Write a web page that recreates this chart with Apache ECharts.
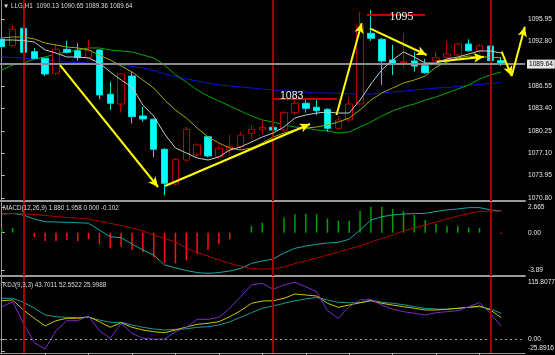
<!DOCTYPE html>
<html>
<head>
<meta charset="utf-8">
<script src="https://cdn.jsdelivr.net/npm/echarts@6/dist/echarts.min.js"></script>
<style>
  html, body { margin: 0; padding: 0; background: #000; }
  #chartBox { width: 555px; height: 355px; }
</style>
</head>
<body>
<div id="chartBox"></div>
<script>
// LLG,H1 - 47 bars, index 0..46
const opens  = [1093.13,1092.23,1094.68,1091.39,1090.46,1088.34,1091.72,1091.53,1090.54,1091.63,1085.39,1084.02,1087.96,1082.33,1081.87,1077.64,1072.75,1076.13,1076.84,1079.41,1076.60,1077.54,1078.01,1079.89,1080.46,1080.74,1080.36,1082.80,1084.12,1083.56,1083.27,1080.60,1081.77,1084.02,1093.98,1093.13,1090.22,1089.84,1090.08,1089.41,1090.12,1090.60,1090.92,1092.47,1091.53,1092.19,1090.13];
const closes = [1092.09,1094.54,1091.30,1090.46,1088.25,1091.72,1091.30,1090.54,1091.53,1085.29,1084.12,1088.25,1082.23,1081.91,1077.64,1072.85,1076.23,1080.46,1078.25,1076.70,1077.78,1078.01,1079.65,1080.46,1080.74,1080.36,1082.80,1084.12,1083.41,1083.08,1080.60,1081.77,1084.02,1095.01,1093.27,1090.08,1089.75,1089.98,1089.36,1088.43,1090.54,1091.06,1092.47,1091.53,1092.23,1090.12,1089.64];
const lows   = [1091.95,1092.10,1091.20,1090.40,1087.96,1088.11,1091.16,1090.12,1090.46,1084.72,1083.18,1082.80,1081.30,1081.53,1076.51,1071.20,1072.61,1075.90,1076.60,1076.50,1076.37,1076.90,1077.64,1079.19,1079.65,1080.20,1080.10,1082.47,1082.80,1082.47,1080.12,1080.40,1081.53,1083.90,1092.90,1086.70,1088.11,1089.05,1088.57,1088.30,1089.98,1090.22,1090.80,1091.40,1091.16,1090.00,1089.36];
const highs  = [1093.40,1095.15,1094.80,1091.87,1090.50,1092.43,1092.94,1092.57,1093.03,1091.70,1087.16,1088.30,1088.57,1083.64,1082.00,1077.80,1076.40,1080.80,1078.50,1079.50,1078.01,1079.65,1080.12,1081.06,1081.91,1080.90,1083.00,1084.58,1084.58,1084.58,1083.41,1082.23,1084.82,1097.02,1097.26,1093.30,1092.33,1094.06,1091.39,1090.36,1091.39,1092.80,1092.65,1093.13,1092.47,1092.65,1090.65];

// moving averages on the price panel
const maGray  = [1093.03,1093.03,1092.96,1092.75,1091.63,1091.20,1090.64,1090.64,1090.50,1089.79,1088.53,1087.40,1086.41,1083.88,1082.33,1079.80,1077.82,1077.12,1076.41,1076.13,1076.56,1077.54,1077.96,1078.67,1079.37,1079.94,1080.78,1082.05,1082.47,1082.75,1082.89,1082.75,1082.75,1084.58,1086.84,1088.81,1090.22,1091.34,1090.64,1089.79,1089.79,1090.36,1090.64,1091.06,1091.49,1091.49,1091.20];
const maOlive = [1093.32,1093.46,1093.46,1093.18,1092.61,1092.33,1092.05,1091.91,1091.63,1090.92,1090.22,1089.37,1088.53,1087.40,1086.27,1084.58,1083.18,1082.05,1080.64,1079.37,1078.53,1077.82,1077.54,1077.82,1078.53,1079.37,1079.94,1080.36,1080.64,1080.78,1081.06,1081.49,1082.05,1083.18,1084.58,1085.57,1086.27,1086.98,1087.40,1087.96,1089.23,1089.94,1090.50,1090.78,1090.64,1090.64,1090.50];
const maGreen = [1088.81,1089.51,1089.79,1090.36,1090.64,1091.06,1091.34,1091.63,1091.91,1091.91,1091.63,1091.49,1091.34,1090.92,1090.50,1089.51,1088.11,1087.12,1085.99,1085.15,1084.44,1083.74,1083.03,1082.33,1081.77,1081.49,1081.06,1080.78,1080.64,1080.36,1080.22,1079.94,1080.08,1080.78,1081.49,1082.33,1083.03,1083.60,1084.02,1084.58,1085.01,1085.57,1086.13,1086.70,1087.54,1088.11,1088.53];
const maBlue  = [1090.64,1090.57,1090.50,1090.36,1090.29,1090.15,1089.94,1089.87,1089.79,1089.72,1089.65,1089.51,1089.30,1089.09,1088.74,1088.25,1087.89,1087.54,1087.26,1086.98,1086.70,1086.56,1086.41,1086.27,1086.13,1085.99,1085.85,1085.78,1085.71,1085.57,1085.57,1085.53,1085.46,1085.36,1085.43,1085.57,1085.71,1085.85,1085.99,1086.13,1086.27,1086.34,1086.49,1086.63,1086.77,1086.91,1087.05];

// MACD(12,26,9)
const macdHist = [0.50,0.50,0.05,-0.45,-0.87,-0.87,-0.77,-0.87,-0.70,-1.22,-1.64,-1.47,-1.82,-2.06,-2.62,-3.21,-3.21,-2.90,-2.27,-1.82,-1.22,-0.70,0.02,0.70,1.05,1.23,1.60,1.93,1.96,1.93,1.50,1.26,1.26,2.28,2.73,2.73,2.49,2.28,1.86,1.33,0.94,0.70,0.70,0.56,0.49,0.05,-0.10];
const macdDif  = [1.95,2.03,1.85,1.43,1.15,1.12,1.09,1.05,0.99,0.28,-0.42,-0.53,-1.19,-1.82,-2.34,-3.39,-3.68,-3.97,-4.18,-4.27,-4.18,-4.02,-3.76,-3.22,-2.97,-2.76,-2.13,-1.64,-1.40,-1.22,-1.08,-1.01,-0.69,0.28,1.33,1.68,1.86,1.96,2.00,2.03,2.23,2.39,2.49,2.63,2.63,2.39,2.28];
const macdDea  = [1.96,2.01,1.96,1.91,1.81,1.70,1.60,1.54,1.43,1.22,0.98,0.75,0.49,0.18,-0.24,-0.61,-0.98,-1.61,-2.08,-2.45,-2.87,-3.21,-3.50,-3.78,-3.81,-3.81,-3.60,-3.24,-2.97,-2.66,-2.34,-2.03,-1.71,-1.40,-0.98,-0.61,-0.24,0.18,0.49,0.81,1.12,1.44,1.75,2.01,2.22,2.27,2.27];

// KDJ(9,3,3)
const kdjK = [78.2,79.7,59.2,42.3,26.6,37.4,42.3,42.3,45.5,35.3,23.9,33.3,23.9,18.4,14.9,12.9,18.4,24.5,30.0,32.1,35.3,45.5,57.8,72.9,77.6,78.2,83.1,91.9,89.9,87.8,72.9,64.7,69.4,74.1,78.0,72.9,69.4,66.0,62.7,59.2,59.2,60.7,62.7,64.7,67.4,59.2,43.7];
const kdjD = [83.1,83.1,75.0,63.3,49.0,45.5,44.3,43.5,44.3,38.8,34.1,34.1,28.6,23.9,20.4,18.4,19.8,20.8,23.9,25.1,28.6,35.3,44.3,53.7,62.7,67.4,72.9,78.2,81.7,85.2,79.7,75.0,74.1,74.1,79.2,75.0,72.9,70.1,66.0,62.7,61.3,60.7,62.7,64.7,66.0,61.3,52.6];
const kdjJ = [65.4,76.2,32.1,-7.6,-20.4,17.0,37.4,37.4,47.0,17.0,1.4,32.1,11.6,1.4,-0.6,0.0,14.9,23.5,40.2,40.2,44.3,62.7,86.4,110.3,113.8,101.5,110.3,115.8,106.8,96.6,57.8,42.3,66.0,79.7,80.7,69.4,60.7,55.8,52.5,49.0,53.7,55.8,57.8,66.0,74.1,52.5,26.0];

// axis tick labels
const priceTicks = [1070.80,1073.95,1077.10,1080.25,1083.40,1086.55,1092.80,1095.95];
const macdTicks = [-3.89,0,2.665];
const macdTickLabels = ['-3.89','0.00','2.665'];
const kdjTicks = [-25.8916,0,115.8077];
const kdjLabelAt = [-19,0,115.8077];   // bottom label is pushed up inside the pane
const kdjTickLabels = ['-25.8916','0.00','115.8077'];
const timeTicks = [4,8,12,16,20,24,28,32,36,40,44];
const lastPrice = 1089.64;

// day separators (bar index)
const daySeps = [2,25,45];

// hand drawn arrows [[fromIdx, fromPrice], [toIdx, toPrice]]
const arrows = [
  [[5.37,1089.50],[14.40,1072.33]],
  [[15.04,1072.47],[28.39,1081.20]],
  [[30.83,1082.47],[33.15,1095.39]],
  [[33.90,1094.68],[39.13,1090.92]],
  [[40.06,1089.98],[44.40,1090.68]],
  [[46.04,1091.39],[46.96,1087.96]],
  [[46.96,1087.96],[48.18,1094.91]]
];
// marked levels [fromIdx, toIdx, price, text, textIdx, textPrice]
const levels = [
  [24.98,30.87,1084.73,'1083',26.70,1085.15],
  [33.64,38.98,1096.65,'1095',36.81,1096.34]
];

const xMin = -0.157, xMax = 48.19;
const pairs = arr => arr.map((v, i) => [i, v]);
const smallFont = '"Liberation Sans", sans-serif';

var myChart = null;

const sepLines = () => ({
  silent: true,
  symbol: 'none',
  label: { show: false },
  lineStyle: { color: '#a00000', width: 2, type: 'solid' },
  data: daySeps.map(i => ({ xAxis: i }))
});

const xAxisBase = (gi, lineW, ticks) => ({
  type: 'value',
  gridIndex: gi,
  min: xMin,
  max: xMax,
  splitLine: { show: false },
  axisLabel: { show: false },
  axisLine: { onZero: false, lineStyle: { color: '#9a9a9a', width: lineW } },
  axisTick: ticks ? { show: true, customValues: ticks, length: 3, lineStyle: { color: '#bdbdbd' } } : { show: false }
});

const yAxisBase = (gi, min, max, ticks, labelAt, fmt) => ({
  type: 'value',
  gridIndex: gi,
  position: 'right',
  min: min,
  max: max,
  scale: true,
  splitLine: { show: false },
  axisLine: { show: true, lineStyle: { color: '#9a9a9a', width: 1 } },
  axisTick: { show: true, customValues: ticks, length: 3, lineStyle: { color: '#bdbdbd' } },
  axisLabel: {
    customValues: labelAt,
    margin: 3,
    color: '#e6e6e6',
    fontSize: 6.6,
    fontFamily: smallFont,
    formatter: fmt
  }
});

const gridBase = (top, height) => ({
  left: 0, right: 30, top: top, height: height,
  containLabel: false,
  outerBoundsMode: 'none'
});

const getOptions = () => {
  const textStyle = { color: '#dcdcdc', fontSize: 6.3, fontWeight: 'normal', fontFamily: smallFont };
  return {
    backgroundColor: '#000',
    animation: false,
    title: [
      { text: '▼ LLG,H1  1090.13 1090.65 1089.36 1089.64', left: 3, top: 3, padding: 0, textStyle: textStyle },
      { text: 'MACD(12,26,9) 1.880 1.958 0.000 -0.102', left: 3, top: 205, padding: 0, textStyle: textStyle },
      { text: 'KDJ(9,3,3) 43.7011 52.5522 25.9988', left: 3, top: 282, padding: 0, textStyle: textStyle }
    ],
    grid: [gridBase(0, 201), gridBase(202, 74), gridBase(277, 76)],
    xAxis: [xAxisBase(0, 2), xAxisBase(1, 2), xAxisBase(2, 1, timeTicks)],
    yAxis: [
      yAxisBase(0, 1070.358, 1098.668, priceTicks, priceTicks, v => v.toFixed(2)),
      yAxisBase(1, -4.544, 3.221, macdTicks, macdTicks, v => macdTickLabels[macdTicks.indexOf(v)]),
      yAxisBase(2, -28.59, 126.63, kdjTicks, kdjLabelAt, v => kdjTickLabels[kdjLabelAt.indexOf(v)])
    ],
    series: [
      {
        name: 'blue',
        type: 'line',
        xAxisIndex: 0, yAxisIndex: 0,
        data: pairs(maBlue),
        symbol: 'none',
        lineStyle: { color: '#0a12d8', width: 1 },
        markLine: sepLines(),
        z: 1
      },
      {
        name: 'green',
        type: 'line',
        xAxisIndex: 0, yAxisIndex: 0,
        data: pairs(maGreen),
        symbol: 'none',
        lineStyle: { color: '#00a800', width: 1 },
        z: 2
      },
      {
        name: 'price',
        type: 'candlestick',
        xAxisIndex: 0, yAxisIndex: 0,
        data: opens.map((o, i) => [i, o, closes[i], lows[i], highs[i]]),
        encode: { x: 0, y: [1, 2, 3, 4] },
        barWidth: 7,
        itemStyle: {
          color: '#000',
          color0: '#00ffff',
          borderColor: '#c00000',
          borderColor0: '#00e0e0',
          borderWidth: 1
        },
        markLine: {
          silent: true,
          symbol: 'none',
          lineStyle: { color: '#8c8c8c', width: 2, type: 'solid' },
          label: {
            show: true,
            position: 'end',
            distance: 2,
            formatter: lastPrice.toFixed(2),
            color: '#000',
            backgroundColor: '#e6e6e6',
            padding: [1, 2],
            fontSize: 6.6,
            fontFamily: smallFont
          },
          data: [{ yAxis: lastPrice }]
        },
        z: 3
      },
      {
        name: 'olive',
        type: 'line',
        xAxisIndex: 0, yAxisIndex: 0,
        data: pairs(maOlive),
        symbol: 'none',
        lineStyle: { color: '#a8a800', width: 1 },
        z: 4
      },
      {
        name: 'gray',
        type: 'line',
        xAxisIndex: 0, yAxisIndex: 0,
        data: pairs(maGray),
        symbol: 'none',
        lineStyle: { color: '#c8c8c8', width: 1 },
        markLine: {
          silent: true,
          symbol: ['none', 'arrow'],
          symbolSize: [7, 10],
          label: { show: false },
          lineStyle: { color: '#ffff00', width: 2, type: 'solid' },
          data: arrows.map(a => [{ coord: a[0] }, { coord: a[1] }])
        },
        z: 5
      },
      {
        name: 'levels',
        type: 'line',
        xAxisIndex: 0, yAxisIndex: 0,
        data: [],
        markLine: {
          silent: true,
          symbol: 'none',
          label: { show: false },
          lineStyle: { color: '#c00000', width: 2, type: 'solid' },
          data: levels.map(l => [{ coord: [l[0], l[2]] }, { coord: [l[1], l[2]] }])
        },
        markPoint: {
          silent: true,
          symbol: 'rect',
          symbolSize: 0,
          label: {
            show: true,
            position: 'inside',
            formatter: p => p.name,
            color: '#f0f0f0'
          },
          data: levels.map((l, k) => ({
            name: l[3],
            coord: [l[4], l[5]],
            label: k === 0
              ? { fontSize: 10.5, fontFamily: '"Liberation Sans", sans-serif' }
              : { fontSize: 12, fontFamily: '"Liberation Serif", serif' }
          }))
        },
        z: 6
      },
      {
        name: 'hist',
        type: 'bar',
        xAxisIndex: 1, yAxisIndex: 1,
        data: pairs(macdHist),
        barWidth: 1.5,
        itemStyle: { color: p => (p.value[1] >= 0 ? '#00a000' : '#ff1010') },
        z: 2
      },
      {
        name: 'dif',
        type: 'line',
        xAxisIndex: 1, yAxisIndex: 1,
        data: pairs(macdDif),
        symbol: 'none',
        lineStyle: { color: '#1aa5a5', width: 1 },
        z: 3
      },
      {
        name: 'dea',
        type: 'line',
        xAxisIndex: 1, yAxisIndex: 1,
        data: pairs(macdDea),
        symbol: 'none',
        lineStyle: { color: '#b00000', width: 1 },
        markLine: sepLines(),
        z: 4
      },
      {
        name: 'D',
        type: 'line',
        xAxisIndex: 2, yAxisIndex: 2,
        data: pairs(kdjD),
        symbol: 'none',
        lineStyle: { color: '#1a9a9a', width: 1 },
        markLine: {
          silent: true,
          symbol: 'none',
          label: { show: false },
          lineStyle: { color: '#9a9a9a', width: 1, type: [2, 3] },
          data: [{ yAxis: 0 }]
        },
        z: 2
      },
      {
        name: 'K',
        type: 'line',
        xAxisIndex: 2, yAxisIndex: 2,
        data: pairs(kdjK),
        symbol: 'none',
        lineStyle: { color: '#c8c800', width: 1 },
        markLine: sepLines(),
        z: 3
      },
      {
        name: 'J',
        type: 'line',
        xAxisIndex: 2, yAxisIndex: 2,
        data: pairs(kdjJ),
        symbol: 'none',
        lineStyle: { color: '#7b2cc8', width: 1 },
        z: 4
      }
    ]
  };
};

var chartDom = document.getElementById('chartBox');
myChart = echarts.init(chartDom);
myChart.setOption(getOptions(), true);
</script>
</body>
</html>
